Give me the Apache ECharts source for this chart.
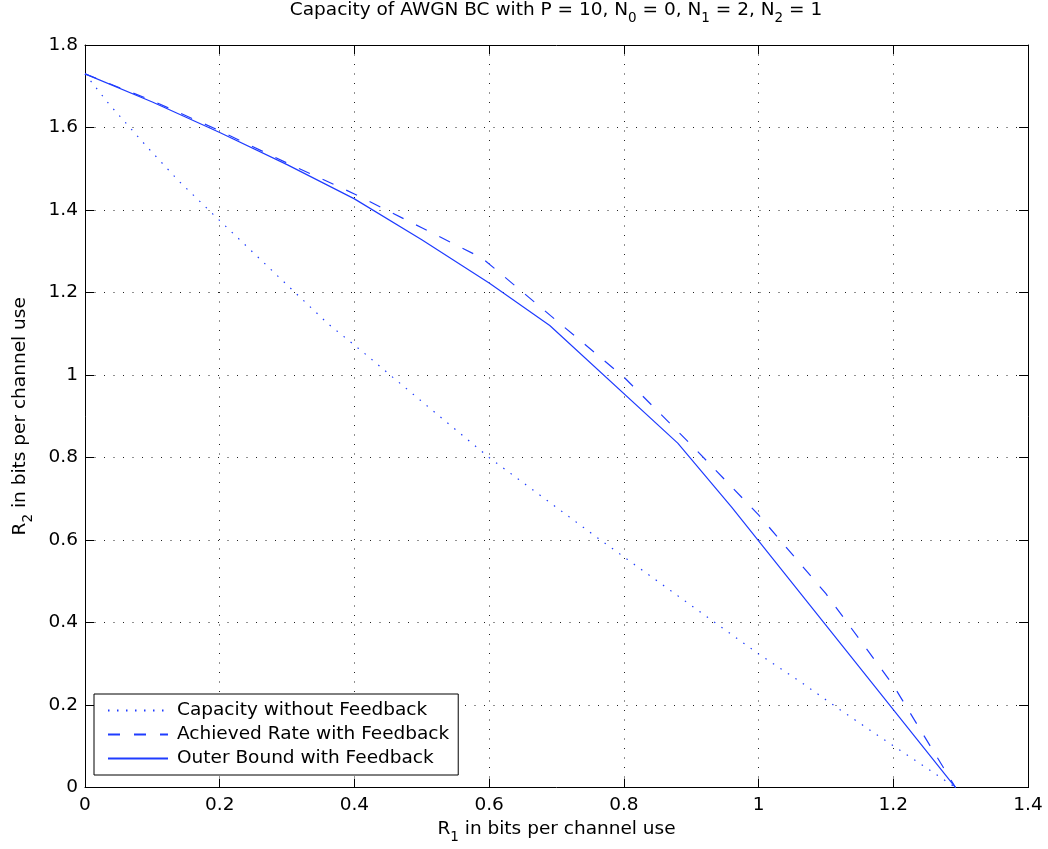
<!DOCTYPE html>
<html><head><meta charset="utf-8">
<script src="https://cdn.jsdelivr.net/npm/echarts@6/dist/echarts.min.js"></script>
<style>html,body{margin:0;padding:0;background:#fff}#c{width:1048px;height:849px}</style>
</head><body><div id="c"></div>
<script>
// ---- data ----
const xTickLabels = ['0','0.2','0.4','0.6','0.8','1','1.2','1.4'];
const yTickLabels = ['0','0.2','0.4','0.6','0.8','1','1.2','1.4','1.6','1.8'];
const seriesNames = ['Capacity without Feedback','Achieved Rate with Feedback','Outer Bound with Feedback'];
const capacityNoFb = [[0,1.73],[0.0356,1.657],[0.0916,1.554],[0.14,1.469],[0.19,1.39],[0.308,1.206],
  [0.361,1.124],[0.414,1.054],[0.453,1.0],[0.6,0.8],[0.677,0.707],[0.757,0.61],[0.863,0.485],
  [0.954,0.378],[1.0,0.324],[1.059,0.26],[1.119,0.191],[1.18,0.123],[1.249,0.048],[1.2925,0]];
const achievedFb = [[0,1.73],[0.1,1.665],[0.2,1.592],[0.3,1.514],[0.4,1.439],[0.5,1.357],[0.59,1.283],
  [0.7,1.132],[0.8,0.995],[0.9,0.831],[1.0,0.661],[1.1,0.47],[1.2,0.248],[1.2925,0]];
const outerFb = [[0,1.73],[0.1,1.662],[0.2,1.588],[0.3,1.51],[0.4,1.427],[0.5,1.328],[0.6,1.223],
  [0.69,1.12],[0.88,0.835],[0.96,0.68],[1.2925,0]];

const FONT = 'DejaVu Sans';
const FS = 18.5;
const BLUE = '#1f3cff';
const rich = {
  t: {fontSize: FS, fontFamily: FONT, fontWeight: 'normal', color: '#000', lineHeight: 22, verticalAlign: 'top'},
  s: {fontSize: 13.5, fontFamily: FONT, fontWeight: 'normal', color: '#000', lineHeight: 14, padding: [10.5,0,0,0], verticalAlign: 'top'}
};
const gridLine = {show: true, lineStyle: {color: '#222', width: 1, type: [1, 8.5]}};
const tick = {show: true, inside: true, length: 9, lineStyle: {color: '#000', width: 1}};
const axLine = {show: true, onZero: false, lineStyle: {color: '#000', width: 1}};

const chart = echarts.init(document.getElementById('c'), null, {renderer: 'canvas'});
chart.setOption({
  animation: false,
  backgroundColor: '#fff',
  title: {
    text: '{t|Capacity of AWGN BC with P = 10, N}{s|0}{t| = 0, N}{s|1}{t| = 2, N}{s|2}{t| = 1}',
    left: 556, textAlign: 'center', top: 1, padding: 0,
    textStyle: {fontWeight: 'normal', rich: rich}
  },
  grid: {left: 85, top: 45, right: 20, bottom: 60, containLabel: false},
  legend: {
    orient: 'vertical', left: 94, top: 694,
    data: seriesNames,
    backgroundColor: '#fff', borderColor: '#000', borderWidth: 1, borderRadius: 0,
    padding: [7, 9, 7, 13], itemGap: 5, itemWidth: 60, itemHeight: 20,
    itemStyle: {opacity: 0},
    textStyle: {fontFamily: FONT, fontSize: FS, color: '#000', padding: [0,0,0,4]}
  },
  xAxis: [{
    type: 'value', min: 0, max: 1.4, interval: 0.2, position: 'bottom',
    axisLine: axLine, axisTick: tick, splitLine: gridLine,
    axisLabel: {fontFamily: FONT, fontSize: FS, color: '#000', margin: 8,
      formatter: v => xTickLabels[Math.round(v / 0.2)]},
    name: '{t|R}{s|1}{t| in bits per channel use}', nameLocation: 'middle', nameGap: 24,
    nameTextStyle: {rich: rich}
  }, {
    type: 'value', min: 0, max: 1.4, interval: 0.2, position: 'top',
    axisLine: axLine, axisTick: tick, splitLine: {show: false}, axisLabel: {show: false}
  }],
  yAxis: [{
    type: 'value', min: 0, max: 1.8, interval: 0.2, position: 'left',
    axisLine: axLine, axisTick: tick, splitLine: gridLine,
    axisLabel: {fontFamily: FONT, fontSize: FS, color: '#000', margin: 7,
      formatter: v => yTickLabels[Math.round(v / 0.2)]},
    name: '{t|R}{s|2}{t| in bits per channel use}', nameLocation: 'middle', nameGap: 52, nameRotate: 90,
    nameTextStyle: {rich: rich}
  }, {
    type: 'value', min: 0, max: 1.8, interval: 0.2, position: 'right',
    axisLine: axLine, axisTick: tick, splitLine: {show: false}, axisLabel: {show: false}
  }],
  series: [
    {name: seriesNames[0], type: 'line', data: capacityNoFb, symbol: 'none', showSymbol: false,
     lineStyle: {color: BLUE, width: 1.2, type: [1.5, 7.5]}, itemStyle: {color: BLUE}},
    {name: seriesNames[1], type: 'line', data: achievedFb, symbol: 'none', showSymbol: false,
     lineStyle: {color: BLUE, width: 1.2, type: [12, 14]}, itemStyle: {color: BLUE}},
    {name: seriesNames[2], type: 'line', data: outerFb, symbol: 'none', showSymbol: false,
     lineStyle: {color: BLUE, width: 1.2, type: 'solid'}, itemStyle: {color: BLUE}}
  ]
});
</script>
</body></html>
